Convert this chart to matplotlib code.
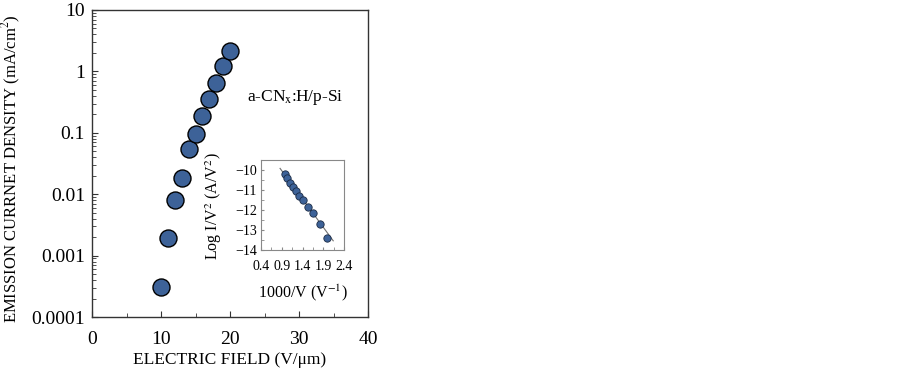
import numpy as np
import matplotlib
matplotlib.use("Agg")
import matplotlib.pyplot as plt

# main data: field vs emission current density
field = [10, 11, 12, 13, 14, 15, 16, 17, 18, 19, 20]
current = [3.1e-4, 1.93e-3, 8.1e-3, 0.0182, 0.0536, 0.094, 0.187, 0.356, 0.649, 1.22, 2.16]

# inset: Fowler-Nordheim plot
fn_x = [0.978, 1.034, 1.099, 1.163, 1.235, 1.323, 1.419, 1.533, 1.661, 1.814, 1.998]
fn_y = [-10.2, -10.42, -10.63, -10.84, -11.06, -11.3, -11.48, -11.87, -12.17, -12.7, -13.38]
fit_x = [0.86, 2.14]
fit_y = [-9.92, -13.54]

plt.rcParams['font.family'] = ['Liberation Serif', 'DejaVu Serif']
plt.rcParams['mathtext.fontset'] = 'stix'

fig = plt.figure(figsize=(9.02, 3.72), dpi=100)
W, H = 902, 372

ax = fig.add_axes([92 / W, 1 - 317 / H, 276 / W, 307 / H])
ax.scatter(field, current, s=150, c='#3d6298', edgecolors='black', linewidths=1.0, zorder=3)
ax.set_yscale('log')
ax.set_xlim(0, 40)
ax.set_ylim(1e-4, 10)
ax.set_xticks([0, 10, 20, 30, 40])
ax.set_xticks([5, 15, 25, 35], minor=True)
ax.set_yticks([1e-4, 1e-3, 1e-2, 1e-1, 1, 10])
ax.set_yticklabels(['0.0001', '0.001', '0.01', '0.1', '1', '10'])
ax.tick_params(which='both', direction='in', labelsize=14, colors='#333333', labelcolor='black')
ax.tick_params(which='major', length=4)
ax.tick_params(which='minor', length=3)
ax.tick_params(axis='x', pad=10)
ax.tick_params(axis='y', pad=5)
for s in ax.spines.values():
    s.set_color('#333333')
    s.set_linewidth(1.0)
ax.set_xlabel('ELECTRIC FIELD (V/\u03bcm)', fontsize=12.5, labelpad=3)
ax.set_ylabel('EMISSION CURRNET DENSITY (mA/cm$^{2}$)', fontsize=12)
ax.yaxis.set_label_coords(-0.25, 0.482)

ax.text(0.91, 0.715, 'a-CN$_{\\rm x}$:H/p-Si', transform=ax.transAxes, ha='right', va='center', fontsize=12.5)

# inset
ins = fig.add_axes([261 / W, 1 - 250 / H, 83 / W, 90 / H])
ins.plot(fit_x, fit_y, color='#707070', linewidth=0.8, zorder=2)
ins.scatter(fn_x, fn_y, s=28, c='#3d6298', edgecolors='#1a2a44', linewidths=0.6, zorder=3)
ins.set_xlim(0.4, 2.4)
ins.set_ylim(-14, -9.5)
ins.set_xticks([0.4, 0.9, 1.4, 1.9, 2.4])
ins.set_xticklabels(['0.4', '0.9', '1.4', '1.9', '2.4'])
ins.set_xticks(np.arange(0.65, 2.4, 0.5), minor=True)
ins.set_yticks([-14, -13, -12, -11, -10])
ins.set_yticks(np.arange(-13.5, -9.5, 1.0), minor=True)
ins.tick_params(which='both', direction='in', labelsize=10, length=2.5, colors='#888888', labelcolor='black', pad=3)
ins.tick_params(axis='x', pad=7)
for s in ins.spines.values():
    s.set_color('#888888')
    s.set_linewidth(0.8)
ins.set_xlabel('1000/V (V$^{-1}$)', fontsize=11.5, labelpad=7)
ins.set_ylabel('Log I/V$^{2}$ (A/V$^{2}$)', fontsize=11.5)
ins.yaxis.set_label_coords(-0.45, 0.49)

fig.savefig('out.png', dpi=100)
